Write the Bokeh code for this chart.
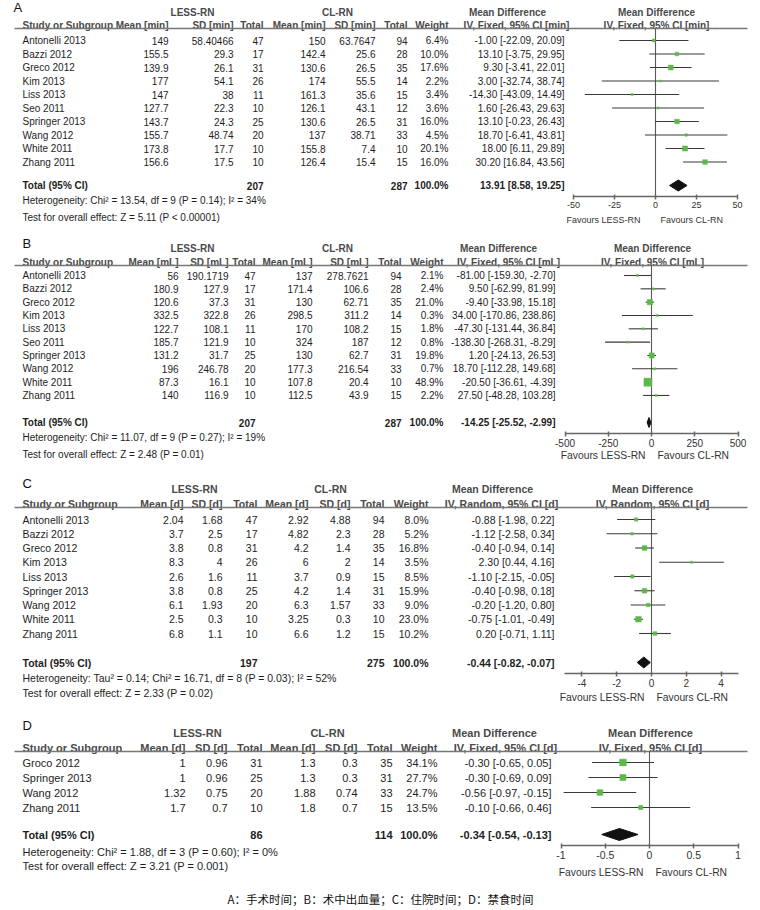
from bokeh.plotting import figure
from bokeh.models import Range1d, LinearAxis, FixedTicker
from bokeh.core.properties import value
from bokeh.embed import file_html
from bokeh.resources import INLINE

# ---------------- Panel A : operative time [min] ----------------
A_studies = ["Antonelli 2013", "Bazzi 2012", "Greco 2012", "Kim 2013", "Liss 2013",
             "Seo 2011", "Springer 2013", "Wang 2012", "White 2011", "Zhang 2011"]
A_less_mean = [149, 155.5, 139.9, 177, 147, 127.7, 143.7, 155.7, 173.8, 156.6]
A_less_sd = [58.40466, 29.3, 26.1, 54.1, 38, 22.3, 24.3, 48.74, 17.7, 17.5]
A_less_n = [47, 17, 31, 26, 11, 10, 25, 20, 10, 10]
A_cl_mean = [150, 142.4, 130.6, 174, 161.3, 126.1, 130.6, 137, 155.8, 126.4]
A_cl_sd = [63.7647, 25.6, 26.5, 55.5, 35.6, 43.1, 26.5, 38.71, 7.4, 15.4]
A_cl_n = [94, 28, 35, 14, 15, 12, 31, 33, 10, 15]
A_weight = [6.4, 10.0, 17.6, 2.2, 3.4, 3.6, 16.0, 4.5, 20.1, 16.0]
A_md = [-1.00, 13.10, 9.30, 3.00, -14.30, 1.60, 13.10, 18.70, 18.00, 30.20]
A_lo = [-22.09, -3.75, -3.41, -32.74, -43.09, -26.43, -0.23, -6.41, 6.11, 16.84]
A_hi = [20.09, 29.95, 22.01, 38.74, 14.49, 29.63, 26.43, 43.81, 29.89, 43.56]
A_total = [207, 287, 13.91, 8.58, 19.25]
A_het = "Heterogeneity: Chi\u00b2 = 13.54, df = 9 (P = 0.14); I\u00b2 = 34%"
A_test = "Test for overall effect: Z = 5.11 (P < 0.00001)"
A_ticks = [-50, -25, 0, 25, 50]
A_tick_labels = ["-50", "-25", "0", "25", "50"]

# ---------------- Panel B : blood loss [mL] ----------------
B_studies = A_studies
B_less_mean = [56, 180.9, 120.6, 332.5, 122.7, 185.7, 131.2, 196, 87.3, 140]
B_less_sd = [190.1719, 127.9, 37.3, 322.8, 108.1, 121.9, 31.7, 246.78, 16.1, 116.9]
B_less_n = [47, 17, 31, 26, 11, 10, 25, 20, 10, 10]
B_cl_mean = [137, 171.4, 130, 298.5, 170, 324, 130, 177.3, 107.8, 112.5]
B_cl_sd = [278.7621, 106.6, 62.71, 311.2, 108.2, 187, 62.7, 216.54, 20.4, 43.9]
B_cl_n = [94, 28, 35, 14, 15, 12, 31, 33, 10, 15]
B_weight = [2.1, 2.4, 21.0, 0.3, 1.8, 0.8, 19.8, 0.7, 48.9, 2.2]
B_md = [-81.00, 9.50, -9.40, 34.00, -47.30, -138.30, 1.20, 18.70, -20.50, 27.50]
B_lo = [-159.30, -62.99, -33.98, -170.86, -131.44, -268.31, -24.13, -112.28, -36.61, -48.28]
B_hi = [-2.70, 81.99, 15.18, 238.86, 36.84, -8.29, 26.53, 149.68, -4.39, 103.28]
B_total = [207, 287, -14.25, -25.52, -2.99]
B_het = "Heterogeneity: Chi\u00b2 = 11.07, df = 9 (P = 0.27); I\u00b2 = 19%"
B_test = "Test for overall effect: Z = 2.48 (P = 0.01)"
B_ticks = [-500, -250, 0, 250, 500]
B_tick_labels = ["-500", "-250", "0", "250", "500"]

# ---------------- Panel C : hospital stay [d] ----------------
C_studies = ["Antonelli 2013", "Bazzi 2012", "Greco 2012", "Kim 2013", "Liss 2013",
             "Springer 2013", "Wang 2012", "White 2011", "Zhang 2011"]
C_less_mean = [2.04, 3.7, 3.8, 8.3, 2.6, 3.8, 6.1, 2.5, 6.8]
C_less_sd = [1.68, 2.5, 0.8, 4, 1.6, 0.8, 1.93, 0.3, 1.1]
C_less_n = [47, 17, 31, 26, 11, 25, 20, 10, 10]
C_cl_mean = [2.92, 4.82, 4.2, 6, 3.7, 4.2, 6.3, 3.25, 6.6]
C_cl_sd = [4.88, 2.3, 1.4, 2, 0.9, 1.4, 1.57, 0.3, 1.2]
C_cl_n = [94, 28, 35, 14, 15, 31, 33, 10, 15]
C_weight = [8.0, 5.2, 16.8, 3.5, 8.5, 15.9, 9.0, 23.0, 10.2]
C_md = [-0.88, -1.12, -0.40, 2.30, -1.10, -0.40, -0.20, -0.75, 0.20]
C_lo = [-1.98, -2.58, -0.94, 0.44, -2.15, -0.98, -1.20, -1.01, -0.71]
C_hi = [0.22, 0.34, 0.14, 4.16, -0.05, 0.18, 0.80, -0.49, 1.11]
C_total = [197, 275, -0.44, -0.82, -0.07]
C_het = "Heterogeneity: Tau\u00b2 = 0.14; Chi\u00b2 = 16.71, df = 8 (P = 0.03); I\u00b2 = 52%"
C_test = "Test for overall effect: Z = 2.33 (P = 0.02)"
C_ticks = [-4, -2, 0, 2, 4]
C_tick_labels = ["-4", "-2", "0", "2", "4"]

# ---------------- Panel D : fasting time [d] ----------------
D_studies = ["Groco 2012", "Springer 2013", "Wang 2012", "Zhang 2011"]
D_less_mean = [1, 1, 1.32, 1.7]
D_less_sd = [0.96, 0.96, 0.75, 0.7]
D_less_n = [31, 25, 20, 10]
D_cl_mean = [1.3, 1.3, 1.88, 1.8]
D_cl_sd = [0.3, 0.3, 0.74, 0.7]
D_cl_n = [35, 31, 33, 15]
D_weight = [34.1, 27.7, 24.7, 13.5]
D_md = [-0.30, -0.30, -0.56, -0.10]
D_lo = [-0.65, -0.69, -0.97, -0.66]
D_hi = [0.05, 0.09, -0.15, 0.46]
D_total = [86, 114, -0.34, -0.54, -0.13]
D_het = "Heterogeneity: Chi\u00b2 = 1.88, df = 3 (P = 0.60); I\u00b2 = 0%"
D_test = "Test for overall effect: Z = 3.21 (P = 0.001)"
D_ticks = [-1, -0.5, 0, 0.5, 1]
D_tick_labels = ["-1", "-0.5", "0", "0.5", "1"]

CAPTION = "A\uff1a\u624b\u672f\u65f6\u95f4\uff1bB\uff1a\u672f\u4e2d\u51fa\u8840\u91cf\uff1bC\uff1a\u4f4f\u9662\u65f6\u95f4\uff1bD\uff1a\u7981\u98df\u65f6\u95f4"

# ---------------- figure ----------------
FONT = "Liberation Sans"
W, H = 756, 906
X0, Y0 = 0, 0
GREEN = "#5cb848"
HDR = "#4a4a4a"
TXT = "#1e1e1e"
LINE = "#777777"

p = figure(width=W, height=H, x_range=Range1d(X0, X0 + W), y_range=Range1d(Y0 + H, Y0),
           output_backend="svg", toolbar_location=None,
           x_axis_location=None, y_axis_location=None, min_border=0)
p.outline_line_color = None
p.grid.visible = False
p.background_fill_color = "white"
p.border_fill_color = "white"


def txt(xs, ys, texts, align="left", size="10px", bold=False, color=TXT, rng="default"):
    return p.text(x=xs, y=ys, text=texts, text_align=align, text_baseline="middle",
                  text_font=value(FONT), text_font_size=value(size),
                  text_font_style=value("bold" if bold else "normal"), text_color=color,
                  x_range_name=rng)


def panel(key, label, studies, lm, lsd, ln, cm, csd, cn, wt, md, lo, hi, total,
          het, test, ticks, tick_labels, unit, model, bounds, L):
    fs = L["fs"]
    n = len(studies)
    ys = [L["row0"] + L["pitch"] * i for i in range(n)]
    cols = L["cols"]
    # panel letter
    txt([L["lab_x"]], [L["lab_y"]], [label], size="13px", color="#111")
    # group headers
    txt([L["less_c"]], [L["grp_y"]], ["LESS-RN"], align="center", size=fs, bold=True, color=HDR)
    txt([L["cl_c"]], [L["grp_y"]], ["CL-RN"], align="center", size=fs, bold=True, color=HDR)
    txt([L["mdh1_c"]], [L["grp_y"]], ["Mean Difference"], align="center", size=fs, bold=True, color=HDR)
    txt([L["fh_c"]], [L["grp_y"]], ["Mean Difference"], align="center", size=fs, bold=True, color=HDR)
    # column headers
    hy = L["hdr_y"]
    txt([L["study_x"]], [hy], ["Study or Subgroup"], size=fs, bold=True, color=HDR)
    heads = [f"Mean [{unit}]", f"SD [{unit}]", "Total", f"Mean [{unit}]", f"SD [{unit}]", "Total", "Weight"]
    txt(cols, [hy] * len(cols), heads, align="right", size=fs, bold=True, color=HDR)
    iv = f"IV, {model}, 95% CI [{unit}]"
    txt([L["mdh2_c"]], [hy], [iv], align="center", size=fs, bold=True, color=HDR)
    txt([L["fh_c"]], [hy], [iv], align="center", size=fs, bold=True, color=HDR)
    # header rule
    p.segment(x0=[14], y0=[L["line_y"]], x1=[747], y1=[L["line_y"]], line_color=LINE, line_width=1.6)
    # rows
    txt([L["study_x"]] * n, ys, studies, size=fs)
    for c, vals in zip(cols, [lm, lsd, ln, cm, csd, cn]):
        txt([c] * n, ys, [str(v) for v in vals], align="right", size=fs)
    txt([cols[6]] * n, ys, [f"{w:.1f}%" for w in wt], align="right", size=fs)
    txt([L["md_x"]] * n, ys, [f"{m:.2f} [{a:.2f}, {b:.2f}]" for m, a, b in zip(md, lo, hi)],
        align="right", size=fs)
    # total row
    ty = L["tot_y"]
    txt([L["study_x"]], [ty], ["Total (95% CI)"], size=fs, bold=True)
    txt([cols[2], cols[5], cols[6]], [ty] * 3, [str(total[0]), str(total[1]), "100.0%"],
        align="right", size=fs, bold=True)
    txt([L["md_x"]], [ty], [f"{total[2]:.2f} [{total[3]:.2f}, {total[4]:.2f}]"],
        align="right", size=fs, bold=True)
    txt([L["study_x"]], [L["het_y"]], [het], size=fs)
    txt([L["study_x"]], [L["test_y"]], [test], size=fs)

    # forest plot through its own x scale
    z, k = L["z"], L["k"]
    p.extra_x_ranges[key] = Range1d((X0 - z) / k, (X0 + W - z) / k)
    p.segment(x0=[0], y0=[L["line_y"]], x1=[0], y1=[L["axis_y"]], line_color="#5a5a5a",
              line_width=1.1, x_range_name=key)
    p.segment(x0=lo, y0=ys, x1=hi, y1=ys, line_color="#3a3a3a", line_width=1.1, x_range_name=key)
    sizes = [max(2.0, 1.15 * w ** 0.5) for w in wt]
    p.scatter(x=md, y=ys, marker="square", size=sizes, fill_color=GREEN, line_color=GREEN,
              line_width=0.5, x_range_name=key)
    dh = L["dh"]
    p.patch(x=[total[3], total[2], total[4], total[2]], y=[ty, ty - dh, ty, ty + dh],
            fill_color="#111111", line_color="#111111", x_range_name=key)
    ax = LinearAxis(x_range_name=key, fixed_location=L["axis_y"], bounds=bounds,
                    ticker=FixedTicker(ticks=ticks),
                    major_label_overrides=dict(zip(ticks, tick_labels)))
    ax.axis_line_color = "#666666"
    ax.axis_line_width = 1.5
    ax.major_tick_line_color = "#666666"
    ax.major_tick_line_width = 1.5
    ax.major_tick_in = 2
    ax.major_tick_out = 3
    ax.minor_tick_line_color = None
    ax.major_label_standoff = 2
    ax.major_label_text_font = FONT
    ax.major_label_text_font_size = L["afs"]
    ax.major_label_text_color = "#333333"
    p.add_layout(ax, "below")
    r1 = txt([0], [L["fav_y"]], ["Favours LESS-RN"], align="right", size=L["ffs"], color="#333",
             rng=key)
    r2 = txt([0], [L["fav_y"]], ["Favours CL-RN"], align="left", size=L["ffs"], color="#333",
             rng=key)
    r1.glyph.x_offset = -L["fav_l"]
    r2.glyph.x_offset = L["fav_r"]


LA = dict(lab_x=13, lab_y=7, grp_y=12, less_c=192, cl_c=337, mdh1_c=507, mdh2_c=516, fh_c=656,
          hdr_y=25, line_y=28, study_x=22, cols=[168, 233, 263, 325, 375, 407, 448], md_x=564,
          row0=40, pitch=13.5, tot_y=185, het_y=200, test_y=217, z=655, k=1.64, axis_y=196,
          fav_y=219, fav_l=15, fav_r=5, fs="10px", afs="9px", ffs="9px", dh=5.5)
LB = dict(lab_x=22, lab_y=243, grp_y=248, less_c=192, cl_c=337, mdh1_c=498, mdh2_c=508, fh_c=652,
          hdr_y=262, line_y=265, study_x=22, cols=[178, 228, 255, 312, 368, 401, 443], md_x=555,
          row0=275, pitch=13.33, tot_y=422, het_y=437, test_y=454, z=651, k=0.173, axis_y=433,
          fav_y=455, fav_l=6, fav_r=6, fs="10px", afs="10px", ffs="10.3px", dh=5)
LC = dict(lab_x=22, lab_y=483, grp_y=488, less_c=194, cl_c=330, mdh1_c=492, mdh2_c=501, fh_c=652,
          hdr_y=503, line_y=507, study_x=22, cols=[183, 222, 257, 308, 350, 384, 428], md_x=554,
          row0=519, pitch=14.25, tot_y=662, het_y=677, test_y=692, z=651, k=17.4, axis_y=673,
          fav_y=697, fav_l=7, fav_r=5, fs="10.5px", afs="10px", ffs="10.3px", dh=5.5)
LD = dict(lab_x=22, lab_y=725, grp_y=732, less_c=197, cl_c=327, mdh1_c=494, mdh2_c=505, fh_c=650,
          hdr_y=747, line_y=751, study_x=22, cols=[185, 227, 262, 315, 357, 392, 437], md_x=551,
          row0=762, pitch=15, tot_y=834, het_y=851, test_y=865, z=649, k=88.5, axis_y=845,
          fav_y=872, fav_l=6, fav_r=6, fs="11px", afs="10.5px", ffs="10.3px", dh=6)

panel("A", "A", A_studies, A_less_mean, A_less_sd, A_less_n, A_cl_mean, A_cl_sd, A_cl_n,
      A_weight, A_md, A_lo, A_hi, A_total, A_het, A_test, A_ticks, A_tick_labels,
      "min", "Fixed", (-50, 50), LA)
panel("B", "B", B_studies, B_less_mean, B_less_sd, B_less_n, B_cl_mean, B_cl_sd, B_cl_n,
      B_weight, B_md, B_lo, B_hi, B_total, B_het, B_test, B_ticks, B_tick_labels,
      "mL", "Fixed", (-500, 500), LB)
panel("C", "C", C_studies, C_less_mean, C_less_sd, C_less_n, C_cl_mean, C_cl_sd, C_cl_n,
      C_weight, C_md, C_lo, C_hi, C_total, C_het, C_test, C_ticks, C_tick_labels,
      "d", "Random", (-5, 5), LC)
panel("D", "D", D_studies, D_less_mean, D_less_sd, D_less_n, D_cl_mean, D_cl_sd, D_cl_n,
      D_weight, D_md, D_lo, D_hi, D_total, D_het, D_test, D_ticks, D_tick_labels,
      "d", "Fixed", (-1, 1), LD)

p.text(x=[380], y=[898], text=[CAPTION], text_align="center", text_baseline="middle",
       text_font=value("Noto Sans CJK SC"), text_font_size=value("11.5px"), text_color="#111")

open("out.html", "w").write(file_html(p, INLINE))
